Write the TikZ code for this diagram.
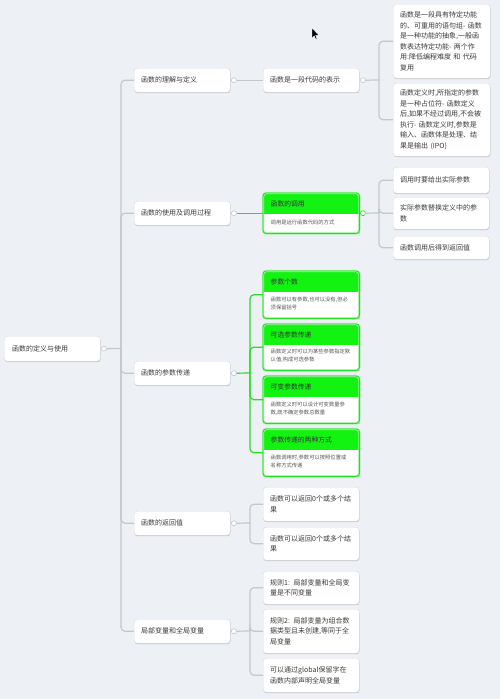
\documentclass[tikz,border=0pt]{standalone}
\usepackage{fontspec}
\setmainfont{Noto Sans CJK SC}
\usetikzlibrary{shadows}
\definecolor{bg}{HTML}{EDF0F4}
\definecolor{conn}{HTML}{C4C7CD}
\definecolor{bord}{HTML}{D8D9DC}
\definecolor{txt}{HTML}{3A3A3A}
\definecolor{gfill}{HTML}{12F312}
\definecolor{gline}{HTML}{26DE26}
\definecolor{gtxt}{HTML}{555555}
\tikzset{
  card/.style={draw=bord, line width=0.4pt, fill=white, rounded corners=3pt,
    drop shadow={shadow xshift=0.3pt, shadow yshift=-1pt, opacity=0.16, fill=black},
    minimum width=96pt, text width=82pt, inner xsep=7pt, inner ysep=0pt,
    align=left, font=\fontsize{7}{10.5}\selectfont, text=txt, anchor=north west},
  link/.style={draw=conn, line width=1.2pt, rounded corners=4pt},
  glink/.style={draw=gline, line width=1.2pt, rounded corners=4pt},
  port/.style={circle, draw=conn, fill=white, line width=0.6pt, inner sep=0pt, minimum size=5pt},
  gport/.style={port, draw=gline},
  gframe/.style={minimum width=96pt, inner sep=0pt, anchor=north west, fill=white,
    drop shadow={shadow xshift=0.3pt, shadow yshift=-1pt, opacity=0.14, fill=black, rounded corners=3pt}},
  gtitle/.style={font=\fontsize{6.8}{8}\selectfont, text=black!80, anchor=west, inner sep=0pt},
  gbody/.style={font=\fontsize{5.3}{7.6}\selectfont, text=gtxt, anchor=west, align=left, inner sep=0pt},
}
% #1 name, #2 x, #3 top, #4 band bottom, #5 bottom, #6 title, #7 body
\newcommand\greenbox[7]{%
  \node[gframe, minimum height={(#5-#3)*1pt}] (#1) at (#2,#3) {};
  \begin{scope}
    \clip[rounded corners=3pt] (#1.north west) rectangle (#1.south east);
    \fill[gfill] (#1.north west) rectangle ([shift={(0,#4-#3)}]#1.north east);
  \end{scope}
  \draw[gline!40, line width=2.2pt, rounded corners=3.5pt] (#1.north west) rectangle (#1.south east);
  \draw[gline, line width=0.9pt, rounded corners=3pt] (#1.north west) rectangle (#1.south east);
  \draw[black!45, line width=0.3pt] ([shift={(-7,3.5)}]#1.north east) -- ++(1.6,1.6)
        ([shift={(-5.4,3.5)}]#1.north east) -- ++(-1.6,1.6);
  \node[gtitle] (#1t) at ([shift={(7.5,{(#4-#3)/2})}]#1.north west) {#6};
  \node[gbody] (#1b) at ([shift={(7.5,{(#4-#3)+(#5-#4)/2-1.5})}]#1.north west) {#7};
}
\begin{document}
\begin{tikzpicture}[x=1pt,y=-1pt]
\fill[bg] (0,0) rectangle (500,699);
\useasboundingbox (0,0) rectangle (500,699);

% root
\node[card, minimum height=25pt, inner xsep=8pt, text width=80pt] (root) at (4,336) {函数的定义与使用};

% level 1
\node[card, minimum height=24pt] (l1a) at (134,68) {函数的理解与定义};
\node[card, minimum height=24pt] (l1b) at (134,201) {函数的使用及调用过程};
\node[card, minimum height=24pt] (l1c) at (134,361) {函数的参数传递};
\node[card, minimum height=24pt] (l1d) at (134,511) {函数的返回值};
\node[card, minimum height=24pt] (l1e) at (134,619) {局部变量和全局变量};

% level 2
\node[card, minimum height=24pt] (l2a) at (263,68) {函数是一段代码的表示};
\greenbox{call}{263}{193}{214}{233}{函数的调用}{调用是运行函数代码的方式}
\greenbox{p1}{263}{271}{292}{318}{参数个数}{函数可以有参数,也可以没有,但必\\须保留括号}
\greenbox{p2}{263}{324}{345}{370}{可选参数传递}{函数定义时可以为某些参数指定默\\认值,构成可选参数}
\greenbox{p3}{263}{376}{397}{423}{可变参数传递}{函数定义时可以设计可变数量参\\数,既不确定参数总数量}
\greenbox{p4}{263}{429}{450}{476}{参数传递的两种方式}{函数调用时,参数可以按照位置或\\名称方式传递}
\node[card, minimum height=34pt] (r1) at (263,487) {函数可以返回0个或多个结\\果};
\node[card, minimum height=33pt] (r2) at (263,527) {函数可以返回0个或多个结\\果};
\node[card, minimum height=33pt] (v1) at (263,571) {规则1: 局部变量和全局变\\量是不同变量};
\node[card, minimum height=44pt] (v2) at (263,609) {规则2: 局部变量为组合数\\据类型且未创建,等同于全\\局变量};
\node[card, minimum height=34pt] (v3) at (263,658) {可以通过global保留字在\\函数内部声明全局变量};

% level 3
\node[card, minimum height=74pt, text width=83pt] (d1) at (393,4) {函数是一段具有特定功能\\的、可重用的语句组- 函数\\是一种功能的抽象,一般函\\数表达特定功能- 两个作\\用:降低编程难度 和 代码\\复用};
\node[card, minimum height=73pt, text width=83pt] (d2) at (393,83) {函数定义时,所指定的参数\\是一种占位符- 函数定义\\后,如果不经过调用,不会被\\执行- 函数定义时,参数是\\输入、函数体是处理、结\\果是输出 (IPO)};
\node[card, minimum height=26pt] (c1) at (393,167) {调用时要给出实际参数};
\node[card, minimum height=32pt] (c2) at (393,197) {实际参数替换定义中的参\\数};
\node[card, minimum height=23pt] (c3) at (393,236) {函数调用后得到返回值};

% ports
\node[port] (rootp) at ([xshift=3.5pt]root.east) {};
\node[port] (l1ap) at ([xshift=3.5pt]l1a.east) {};
\node[port] (l1bp) at ([xshift=3.5pt]l1b.east) {};
\node[port] (l1cp) at ([xshift=3.5pt]l1c.east) {};
\node[port] (l1dp) at ([xshift=3.5pt]l1d.east) {};
\node[port] (l1ep) at ([xshift=3.5pt]l1e.east) {};
\node[port] (l2ap) at ([xshift=3.5pt]l2a.east) {};
\node[gport] (callp) at ([xshift=3.5pt]call.east) {};

% junctions
\coordinate (j0) at (121,348.5);
\coordinate (ja) at (379,80);
\coordinate (jb) at (379,213);
\coordinate (jc) at (250,373);
\coordinate (jd) at (250,523);
\coordinate (je) at (250,631);

% connectors
\draw[link] (rootp.east) -- (j0);
\foreach \n in {l1a,l1b,l1c,l1d,l1e} \draw[link] (j0) |- (\n.west);
\draw[link] (l1ap.east) -- (l2a.west);
\draw[link] (l2ap.east) -- (ja);
\foreach \n in {d1,d2} \draw[link] (ja) |- (\n.west);
\draw[glink] (l1bp.east) -- (call.west);
\draw[link] (callp.east) -- (jb);
\foreach \n in {c1,c2,c3} \draw[link] (jb) |- (\n.west);
\draw[glink] (l1cp.east) -- (jc);
\foreach \n in {p1,p2,p3,p4} \draw[glink] (jc) |- (\n.west);
\draw[link] (l1dp.east) -- (jd);
\foreach \n in {r1,r2} \draw[link] (jd) |- (\n.west);
\draw[link] (l1ep.east) -- (je);
\foreach \n in {v1,v2,v3} \draw[link] (je) |- (\n.west);

% mouse cursor
\filldraw[fill=black, draw=white, line width=0.3pt] (312,28) -- (312,38) -- (314.3,35.8) -- (315.8,39.2) -- (317,38.7) -- (315.6,35.3) -- (318.6,35.2) -- cycle;
\end{tikzpicture}
\end{document}
